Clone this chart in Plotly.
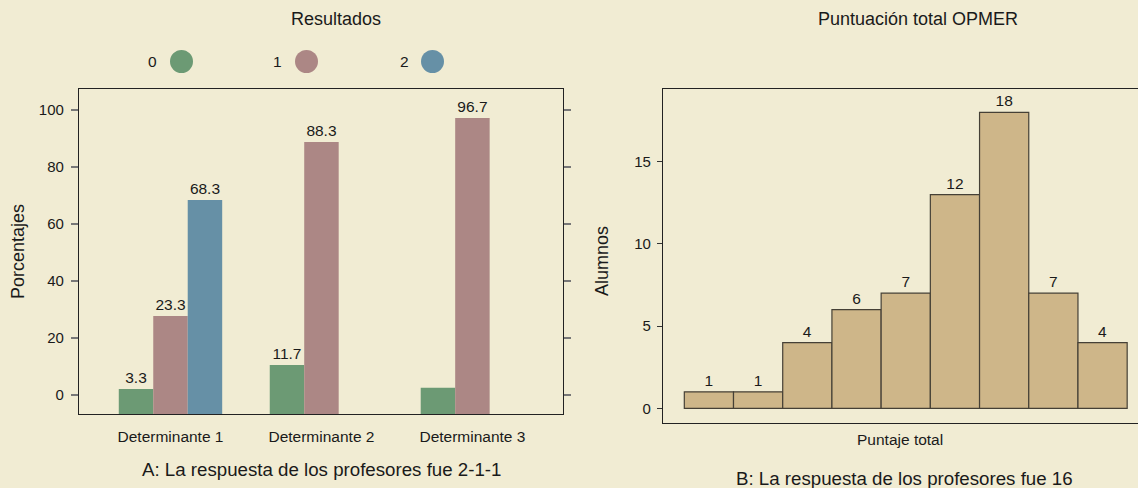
import plotly.graph_objects as go

# ---------------- data ----------------
categories = ["Determinante 1", "Determinante 2", "Determinante 3"]
series_names = ["0", "1", "2"]
values_0 = [2.1, 10.5, 2.5]
values_1 = [27.7, 88.8, 97.2]
values_2 = [68.4, None, None]
labels_0 = ["3.3", "11.7", ""]
labels_1 = ["23.3", "88.3", "96.7"]
labels_2 = ["68.3", "", ""]

hist_bins = [1, 2, 3, 4, 5, 6, 7, 8, 9]
hist_counts = [1, 1, 4, 6, 7, 13, 18, 7, 4]
hist_labels = ["1", "1", "4", "6", "7", "12", "18", "7", "4"]

left_ticks = [0, 20, 40, 60, 80, 100]
right_ticks = [0, 5, 10, 15]

# ---------------- style ----------------
W, H = 1138, 488
BG = "#F1ECD3"
COLORS = ["#6C9A74", "#AC8785", "#6690A6"]
HIST_FILL = "#CEB689"
FONT = "Liberation Sans, Arial, sans-serif"
TXT = "#1a1a1a"
Y1_RANGE = [-6.7, 107.4]
Y2_RANGE = [-0.894, 19.42]


def px(x):
    return x / W


def py(y):
    return 1 - y / H


fig = go.Figure()

for vals, labs, name, col in zip([values_0, values_1, values_2],
                                 [labels_0, labels_1, labels_2],
                                 series_names, COLORS):
    fig.add_trace(go.Bar(
        x=categories,
        y=[None if v is None else v - Y1_RANGE[0] for v in vals],
        base=Y1_RANGE[0],
        text=labs,
        textposition="outside",
        textfont=dict(size=15.5, color=TXT, family=FONT),
        cliponaxis=False,
        marker=dict(color=col, line=dict(width=0)),
        name=name,
        showlegend=False,
        xaxis="x", yaxis="y",
    ))

fig.add_trace(go.Bar(
    x=hist_bins,
    y=hist_counts,
    text=hist_labels,
    textposition="outside",
    textfont=dict(size=15.5, color=TXT, family=FONT),
    cliponaxis=False,
    marker=dict(color=HIST_FILL, line=dict(width=1.2, color="#454036")),
    width=1.0,
    showlegend=False,
    xaxis="x2", yaxis="y2",
))

# manual legend (label left of symbol)
shapes = []
annotations = []
for name, col, lx, cx in zip(series_names, COLORS, [152, 277, 404], [181.5, 306.5, 432.5]):
    annotations.append(dict(text=name, x=px(lx), y=py(61), xref="paper", yref="paper",
                            xanchor="center", yanchor="middle",
                            showarrow=False, font=dict(size=15.5, color=TXT, family=FONT)))
    shapes.append(dict(type="circle", xref="paper", yref="paper",
                       x0=px(cx - 11.5), x1=px(cx + 11.5), y0=py(73), y1=py(50),
                       fillcolor=col, line=dict(width=0)))

def ann(text, x, y, size, angle=0):
    annotations.append(dict(text=text, x=px(x), y=py(y), xref="paper", yref="paper",
                            showarrow=False, textangle=angle,
                            xanchor="center", yanchor="middle",
                            font=dict(size=size, color=TXT, family=FONT)))

ann("Resultados", 336, 19, 18)
ann("Puntuación total OPMER", 918, 19, 18)
ann("Porcentajes", 18, 252, 18, -90)
ann("Alumnos", 602, 261, 18, -90)
ann("Puntaje total", 900, 439, 15.5)
ann("A: La respuesta de los profesores fue 2-1-1", 321, 469, 18.7)
ann("B: La respuesta de los profesores fue 16", 904, 478, 18.7)

fig.update_layout(
    width=W, height=H,
    margin=dict(l=0, r=0, t=0, b=0),
    paper_bgcolor=BG, plot_bgcolor=BG,
    font=dict(family=FONT, color=TXT),
    barmode="group", bargap=0.315, bargroupgap=0,
    shapes=shapes, annotations=annotations,
    xaxis=dict(domain=[px(79), px(563)], anchor="y", type="category",
               range=[-0.606, 2.60], showline=True, linecolor="#222", linewidth=1.3,
               mirror=True, ticks="", showgrid=False, zeroline=False,
               tickfont=dict(size=15.5, color=TXT), ticklabelstandoff=8, automargin=False),
    yaxis=dict(domain=[py(414), py(89)], anchor="x", range=Y1_RANGE,
               tickvals=left_ticks, showline=True, linecolor="#222", linewidth=1.3,
               mirror="ticks", ticks="outside", ticklen=7, tickcolor="#777", tickwidth=1.5,
               showgrid=False, zeroline=False, tickfont=dict(size=15, color=TXT),
               ticklabelstandoff=4, automargin=False),
    xaxis2=dict(domain=[px(663), 1.0], anchor="y2", range=[0.067, 9.72],
                showline=True, linecolor="#222", linewidth=1.3, mirror=True,
                ticks="", showticklabels=False, showgrid=False, zeroline=False,
                automargin=False),
    yaxis2=dict(domain=[py(423), py(89)], anchor="x2", range=Y2_RANGE,
                tickvals=right_ticks, showline=True, linecolor="#222", linewidth=1.3,
                mirror=False, ticks="outside", ticklen=5, tickcolor="#333", tickwidth=1.2,
                showgrid=False, zeroline=False, tickfont=dict(size=15, color=TXT),
                ticklabelstandoff=3, automargin=False),
)

fig.write_html(
    "out.html",
    config={"displayModeBar": False},
    post_script="document.body.style.margin='0';document.body.style.padding='0';"
                "document.body.style.overflow='hidden';"
                "document.documentElement.style.background='" + BG + "';",
)
